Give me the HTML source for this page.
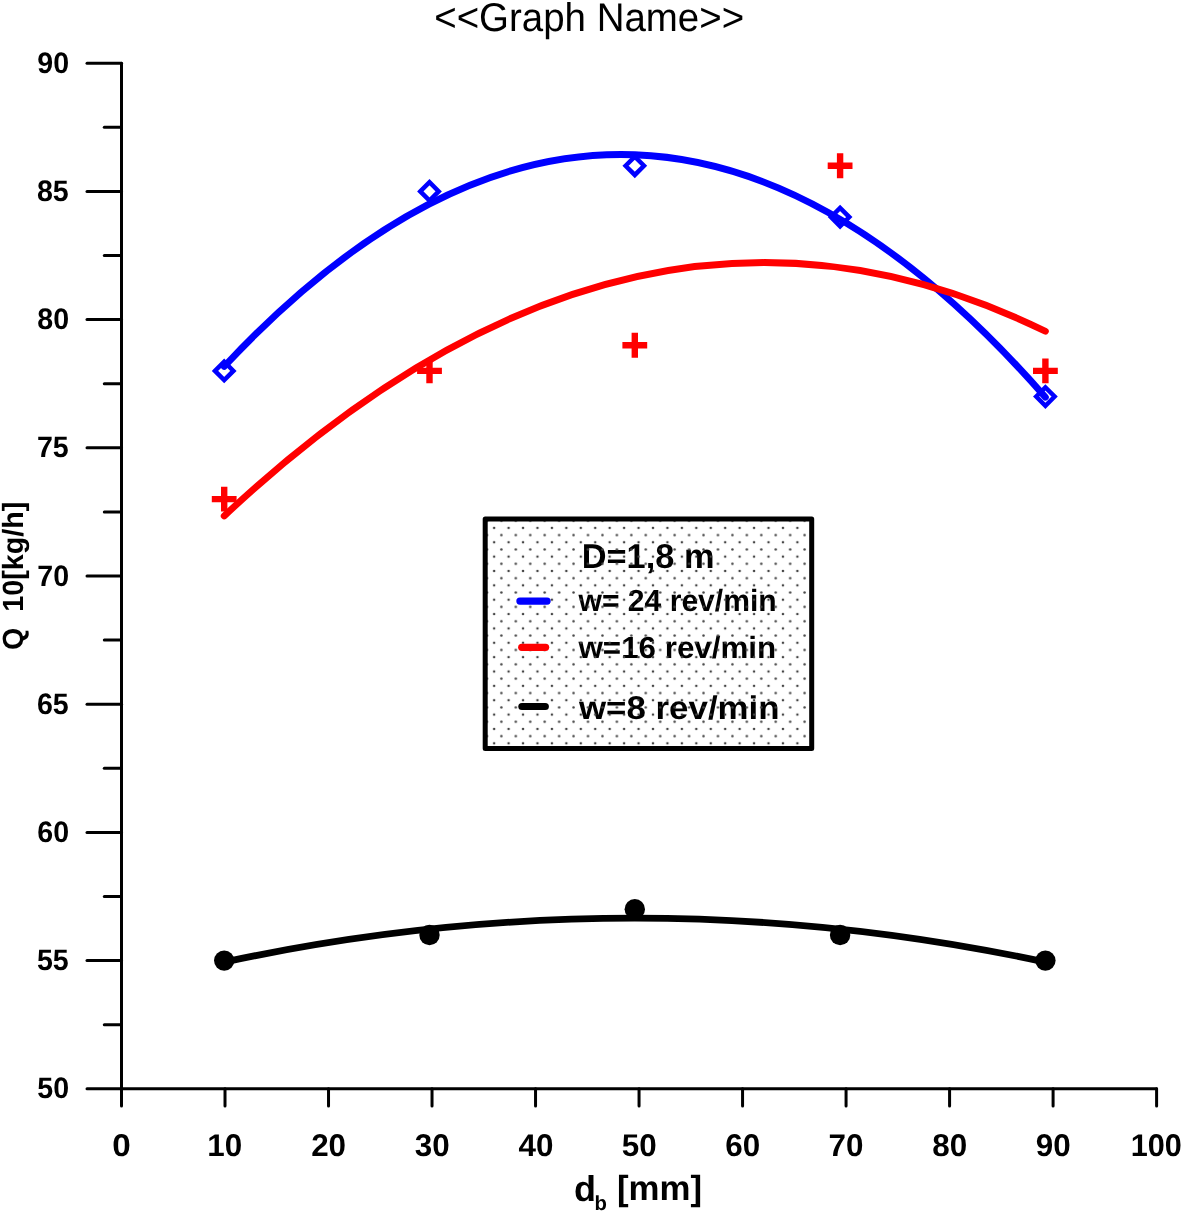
<!DOCTYPE html><html><head><meta charset="utf-8"><style>html,body{margin:0;padding:0;background:#fff;}svg{display:block;will-change:transform;}text{font-family:"Liberation Sans",sans-serif;fill:#000;text-rendering:geometricPrecision;}</style></head><body>
<svg width="1182" height="1212" viewBox="0 0 1182 1212">
<defs><pattern id="dots" patternUnits="userSpaceOnUse" x="494.15" y="527.9" width="14.44" height="14.36"><circle cx="0" cy="0" r="1.25" fill="#444"/><circle cx="14.44" cy="0" r="1.25" fill="#444"/><circle cx="0" cy="14.36" r="1.25" fill="#444"/><circle cx="14.44" cy="14.36" r="1.25" fill="#444"/><circle cx="7.22" cy="7.18" r="1.25" fill="#444"/></pattern></defs>
<rect width="100%" height="100%" fill="#fff"/>
<text transform="translate(434.20,30.90) scale(0.9614,1)" font-size="40" font-weight="normal">&lt;&lt;Graph&#160;Name&gt;&gt;</text>
<g stroke="#000" stroke-width="3" stroke-linecap="round" fill="none">
<path d="M121.5,63.2 V1088.8 H1156.6000000000001"/>
<path d="M87,1088.80 H121.5"/>
<path d="M87,960.60 H121.5"/>
<path d="M87,832.40 H121.5"/>
<path d="M87,704.20 H121.5"/>
<path d="M87,576.00 H121.5"/>
<path d="M87,447.80 H121.5"/>
<path d="M87,319.60 H121.5"/>
<path d="M87,191.40 H121.5"/>
<path d="M87,63.20 H121.5"/>
<path d="M104.3,1024.70 H121.5"/>
<path d="M104.3,896.50 H121.5"/>
<path d="M104.3,768.30 H121.5"/>
<path d="M104.3,640.10 H121.5"/>
<path d="M104.3,511.90 H121.5"/>
<path d="M104.3,383.70 H121.5"/>
<path d="M104.3,255.50 H121.5"/>
<path d="M104.3,127.30 H121.5"/>
<path d="M121.50,1088.80 V1106"/>
<path d="M225.01,1088.80 V1106"/>
<path d="M328.52,1088.80 V1106"/>
<path d="M432.03,1088.80 V1106"/>
<path d="M535.54,1088.80 V1106"/>
<path d="M639.05,1088.80 V1106"/>
<path d="M742.56,1088.80 V1106"/>
<path d="M846.07,1088.80 V1106"/>
<path d="M949.58,1088.80 V1106"/>
<path d="M1053.09,1088.80 V1106"/>
<path d="M1156.60,1088.80 V1106"/>
</g>
<text transform="translate(37.27,1098.40) scale(0.966,1)" font-size="29.6" font-weight="bold">50</text>
<text transform="translate(36.89,970.20) scale(0.966,1)" font-size="29.6" font-weight="bold">55</text>
<text transform="translate(37.27,842.00) scale(0.966,1)" font-size="29.6" font-weight="bold">60</text>
<text transform="translate(36.89,713.80) scale(0.966,1)" font-size="29.6" font-weight="bold">65</text>
<text transform="translate(37.27,585.60) scale(0.966,1)" font-size="29.6" font-weight="bold">70</text>
<text transform="translate(36.89,457.40) scale(0.966,1)" font-size="29.6" font-weight="bold">75</text>
<text transform="translate(37.27,329.20) scale(0.966,1)" font-size="29.6" font-weight="bold">80</text>
<text transform="translate(36.89,201.00) scale(0.966,1)" font-size="29.6" font-weight="bold">85</text>
<text transform="translate(37.27,72.80) scale(0.966,1)" font-size="29.6" font-weight="bold">90</text>
<text transform="translate(112.27,1155.70) scale(1.0600,1)" font-size="31.4" font-weight="bold">0</text>
<text transform="translate(207.20,1155.70) scale(1.0000,1)" font-size="31.4" font-weight="bold">10</text>
<text transform="translate(311.16,1155.70) scale(1.0000,1)" font-size="31.4" font-weight="bold">20</text>
<text transform="translate(414.85,1155.70) scale(1.0000,1)" font-size="31.4" font-weight="bold">30</text>
<text transform="translate(518.48,1155.70) scale(1.0000,1)" font-size="31.4" font-weight="bold">40</text>
<text transform="translate(621.75,1155.70) scale(1.0000,1)" font-size="31.4" font-weight="bold">50</text>
<text transform="translate(725.17,1155.70) scale(1.0000,1)" font-size="31.4" font-weight="bold">60</text>
<text transform="translate(828.58,1155.70) scale(1.0000,1)" font-size="31.4" font-weight="bold">70</text>
<text transform="translate(932.26,1155.70) scale(1.0000,1)" font-size="31.4" font-weight="bold">80</text>
<text transform="translate(1035.73,1155.70) scale(1.0000,1)" font-size="31.4" font-weight="bold">90</text>
<text transform="translate(1130.67,1155.70) scale(0.9770,1)" font-size="31.4" font-weight="bold">100</text>
<text transform="translate(574.12,1201.20) scale(1.0000,1)" font-size="36" font-weight="bold">d</text>
<text transform="translate(594.56,1209.80) scale(1.0000,1)" font-size="20.3" font-weight="bold">b</text>
<text transform="translate(616.94,1200.20) scale(0.9948,1)" font-size="35" font-weight="bold">[mm]</text>
<text transform="translate(22.8,649.9) rotate(-90) scale(0.982,1)" font-size="29.2" font-weight="bold">Q&#160;&#160;10[kg/h]</text>
<path d="M224.20,366.48 Q634.80,-72.33 1045.40,397.25" fill="none" stroke="#0000ff" stroke-width="6.8" stroke-linecap="round"/>
<path d="M224.20,515.93 Q634.80,130.60 1045.40,331.32" fill="none" stroke="#ff0000" stroke-width="6.8" stroke-linecap="round"/>
<path d="M224.20,962.07 Q634.80,874.16 1045.40,962.07" fill="none" stroke="#000000" stroke-width="6.8" stroke-linecap="round"/>
<path d="M215.00,370.88 L224.20,361.68 L233.40,370.88 L224.20,380.08 Z" fill="none" stroke="#0000ff" stroke-width="4.5" stroke-linejoin="miter"/>
<path d="M420.30,191.40 L429.50,182.20 L438.70,191.40 L429.50,200.60 Z" fill="none" stroke="#0000ff" stroke-width="4.5" stroke-linejoin="miter"/>
<path d="M625.60,165.76 L634.80,156.56 L644.00,165.76 L634.80,174.96 Z" fill="none" stroke="#0000ff" stroke-width="4.5" stroke-linejoin="miter"/>
<path d="M830.90,217.04 L840.10,207.84 L849.30,217.04 L840.10,226.24 Z" fill="none" stroke="#0000ff" stroke-width="4.5" stroke-linejoin="miter"/>
<path d="M1036.20,396.52 L1045.40,387.32 L1054.60,396.52 L1045.40,405.72 Z" fill="none" stroke="#0000ff" stroke-width="4.5" stroke-linejoin="miter"/>
<path d="M211.80,499.08 H236.60 M224.20,486.68 V511.48" fill="none" stroke="#ff0000" stroke-width="6.4"/>
<path d="M417.10,370.88 H441.90 M429.50,358.48 V383.28" fill="none" stroke="#ff0000" stroke-width="6.4"/>
<path d="M622.40,345.24 H647.20 M634.80,332.84 V357.64" fill="none" stroke="#ff0000" stroke-width="6.4"/>
<path d="M827.70,165.76 H852.50 M840.10,153.36 V178.16" fill="none" stroke="#ff0000" stroke-width="6.4"/>
<path d="M1033.00,370.88 H1057.80 M1045.40,358.48 V383.28" fill="none" stroke="#ff0000" stroke-width="6.4"/>
<circle cx="224.20" cy="960.60" r="10.2" fill="#000"/>
<circle cx="429.50" cy="934.96" r="10.2" fill="#000"/>
<circle cx="634.80" cy="909.32" r="10.2" fill="#000"/>
<circle cx="840.10" cy="934.96" r="10.2" fill="#000"/>
<circle cx="1045.40" cy="960.60" r="10.2" fill="#000"/>
<rect x="485.2" y="519" width="326.5" height="229.4" fill="#fff"/>
<text transform="translate(581.70,568.20) scale(0.9995,1)" font-size="34.4" font-weight="bold">D=1,8&#160;m</text>
<text transform="translate(578.49,610.50) scale(0.9837,1)" font-size="30.6" font-weight="bold">w=&#160;24&#160;rev/min</text>
<text transform="translate(578.49,658.00) scale(1.0243,1)" font-size="30.6" font-weight="bold">w=16&#160;rev/min</text>
<text transform="translate(579.00,718.60) scale(1.0629,1)" font-size="32.8" font-weight="bold">w=8&#160;rev/min</text>
<rect x="485.2" y="519" width="326.5" height="229.4" fill="url(#dots)"/>
<g stroke-width="7.2" stroke-linecap="round">
<path d="M519.9,601.1 H547.1" stroke="#0000ff"/>
<path d="M521.7,647.3 H545.6" stroke="#ff0000"/>
<path d="M521.9,706.5 H545.3" stroke="#000"/>
</g>
<rect x="485.2" y="519" width="326.5" height="229.4" fill="none" stroke="#000" stroke-width="5" stroke-linejoin="round"/>
</svg></body></html>
